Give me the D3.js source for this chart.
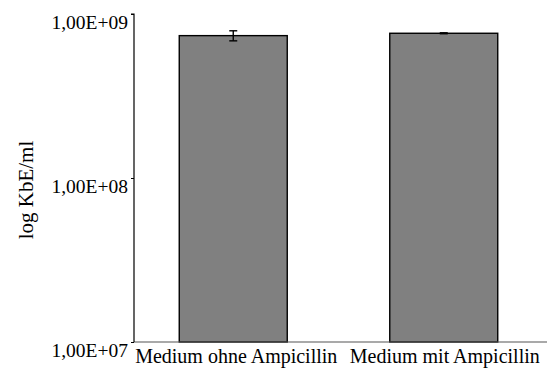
<!DOCTYPE html>
<html><head><meta charset="utf-8">
<script src="https://cdn.jsdelivr.net/npm/d3@7"></script>
</head><body>
<script>
const categories = ["Medium ohne Ampicillin", "Medium mit Ampicillin"];
const values = [7.38e8, 7.63e8];
const errors = [5.2e7, 5e6];
const yTicks = [1e7, 1e8, 1e9];
const yTickLabels = ["1,00E+07", "1,00E+08", "1,00E+09"];
const yTitle = "log KbE/ml";

const W = 547, H = 371;
d3.select("body").style("margin", "0px").style("background", "#fff");
const svg = d3.select("body").append("svg").attr("width", W).attr("height", H).style("display", "block");

const axisX = 134, yTop = 14, yBot = 342;
const y = d3.scaleLog().domain([1e7, 1e9]).range([yBot, yTop]);
const x = d3.scaleBand().domain(categories).range([128, 549]).paddingInner(0.487).paddingOuter(0.2435);

// text first
svg.selectAll("text.ytl").data(yTicks).enter().append("text")
  .attr("x", 128).attr("y", d => y(d) + 15)
  .attr("text-anchor", "end")
  .style("font-family", d => `"Times New Roman"`).attr("font-size", 19.5)
  .text((d, i) => yTickLabels[i]);
svg.selectAll("text.xl").data(categories).enter().append("text")
  .attr("x", d => x(d) + x.bandwidth() / 2 + (d === categories[0] ? 3 : 1))
  .attr("y", 363).attr("text-anchor", "middle")
  .style("font-family", d => `"Times New Roman"`).attr("font-size", 20)
  .text(d => d);
svg.append("text").attr("transform", "translate(33,190) rotate(-90)")
  .attr("text-anchor", "middle")
  .style("font-family", `"Times New Roman"`).attr("font-size", 21).text(yTitle);

// bars
svg.selectAll("rect.bar").data(values).enter().append("rect")
  .attr("x", (d, i) => x(categories[i]))
  .attr("y", d => y(d))
  .attr("width", x.bandwidth())
  .attr("height", d => yBot - y(d))
  .attr("fill", "#808080").attr("stroke", "#000").attr("stroke-width", 1.4);

// x axis line
svg.append("line").attr("x1", axisX).attr("x2", W).attr("y1", yBot).attr("y2", yBot)
  .attr("stroke", "#555").attr("stroke-width", 1.2);

// error bars
const eg = svg.selectAll("g.err").data(values).enter().append("g")
  .attr("transform", (d, i) => `translate(${x(categories[i]) + x.bandwidth() / 2},0)`);
eg.append("line").attr("x1", 0).attr("x2", 0)
  .attr("y1", (d, i) => y(d + errors[i])).attr("y2", (d, i) => y(d - errors[i]))
  .attr("stroke", "#000").attr("stroke-width", 1.4);
eg.append("line").attr("x1", -4).attr("x2", 4)
  .attr("y1", (d, i) => y(d + errors[i])).attr("y2", (d, i) => y(d + errors[i]))
  .attr("stroke", "#000").attr("stroke-width", 1.4);
eg.append("line").attr("x1", -4).attr("x2", 4)
  .attr("y1", (d, i) => y(d - errors[i])).attr("y2", (d, i) => y(d - errors[i]))
  .attr("stroke", "#000").attr("stroke-width", 1.4);

// y axis
const yAxis = d3.axisLeft(y).tickValues(yTicks).tickSize(3).tickFormat(() => "");
const ya = svg.append("g").attr("transform", `translate(${axisX},0)`).call(yAxis);
ya.select(".domain").attr("d", `M-3,${yTop}H0V${yBot}`).attr("stroke", "#000").attr("stroke-width", 1.2);
ya.selectAll(".tick line").attr("stroke", "#000");
</script>
</body></html>
